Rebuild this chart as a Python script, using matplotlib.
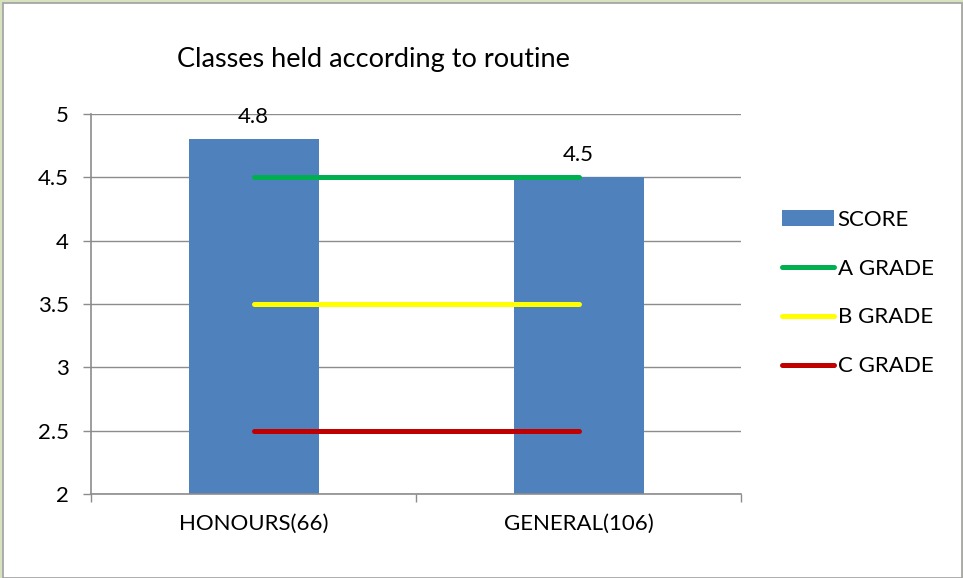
import matplotlib
matplotlib.use("Agg")
import matplotlib.pyplot as plt
from matplotlib.patches import Rectangle

categories = ["HONOURS(66)", "GENERAL(106)"]
scores = [4.8, 4.5]
a_grade = [4.5, 4.5]
b_grade = [3.5, 3.5]
c_grade = [2.5, 2.5]
title = "Classes held according to routine"

plt.rcParams['font.family'] = ['Lato', 'DejaVu Sans']

W, H = 963, 578
fig = plt.figure(figsize=(W/100, H/100), dpi=100, facecolor='#d6e3bc')
fig.patches.append(Rectangle((3/W, 0), (W-4)/W, (H-3)/H, transform=fig.transFigure,
                             facecolor='white', edgecolor='#a0a0a0', linewidth=1.2, zorder=-10))

FS = 16
LW = 3.6
ax = fig.add_axes([91/W, 1-494/H, 650/W, 380/H])
ax.set_facecolor('white')
x = list(range(len(categories)))
ax.bar(x, scores, width=0.4, color='#4f81bd', zorder=2, label='SCORE')
ax.plot(x, a_grade, color='#00b050', lw=LW, solid_capstyle='round', zorder=3, label='A GRADE')
ax.plot(x, b_grade, color='#ffff00', lw=LW, solid_capstyle='round', zorder=3, label='B GRADE')
ax.plot(x, c_grade, color='#c00000', lw=LW, solid_capstyle='round', zorder=3, label='C GRADE')

for xi, v in zip(x, scores):
    ax.annotate(f"{v:g}", (xi, v), xytext=(0, 9), textcoords='offset points',
                ha='center', va='bottom', fontsize=FS)

ax.set_xlim(-0.5, 1.5)
ax.set_ylim(2, 5)
ax.set_yticks([2, 2.5, 3, 3.5, 4, 4.5, 5])
ax.set_yticklabels(["2", "2.5", "3", "3.5", "4", "4.5", "5"], fontsize=FS)
ax.yaxis.grid(True, color='#8c8c8c', lw=1, zorder=1)
ax.set_axisbelow(True)
ax.set_xticks([-0.5, 0.5, 1.5])
ax.set_xticklabels([])
ax.set_xticks(x, minor=True)
ax.set_xticklabels(categories, minor=True, fontsize=FS)
ax.tick_params(axis='x', which='minor', length=0, pad=14)
ax.tick_params(axis='x', which='major', length=6, color='#8c8c8c', width=1)
ax.tick_params(axis='y', length=6, color='#8c8c8c', width=1, pad=10)
for s in ['top', 'right']:
    ax.spines[s].set_visible(False)
for s in ['left', 'bottom']:
    ax.spines[s].set_color('#8c8c8c')
    ax.spines[s].set_linewidth(1.2)

fig.text(373/W, 1-60/H, title, ha='center', va='center', fontsize=19.5)

handles, labels = ax.get_legend_handles_labels()
order = [3, 0, 1, 2]
fig.legend([handles[i] for i in order], [labels[i] for i in order],
           loc='center left', bbox_to_anchor=(762/W, 1-293/H), frameon=False,
           fontsize=FS, handlelength=2.35, handletextpad=0.15, labelspacing=1.3)
fig.savefig("out.png", dpi=100, facecolor=fig.get_facecolor())
